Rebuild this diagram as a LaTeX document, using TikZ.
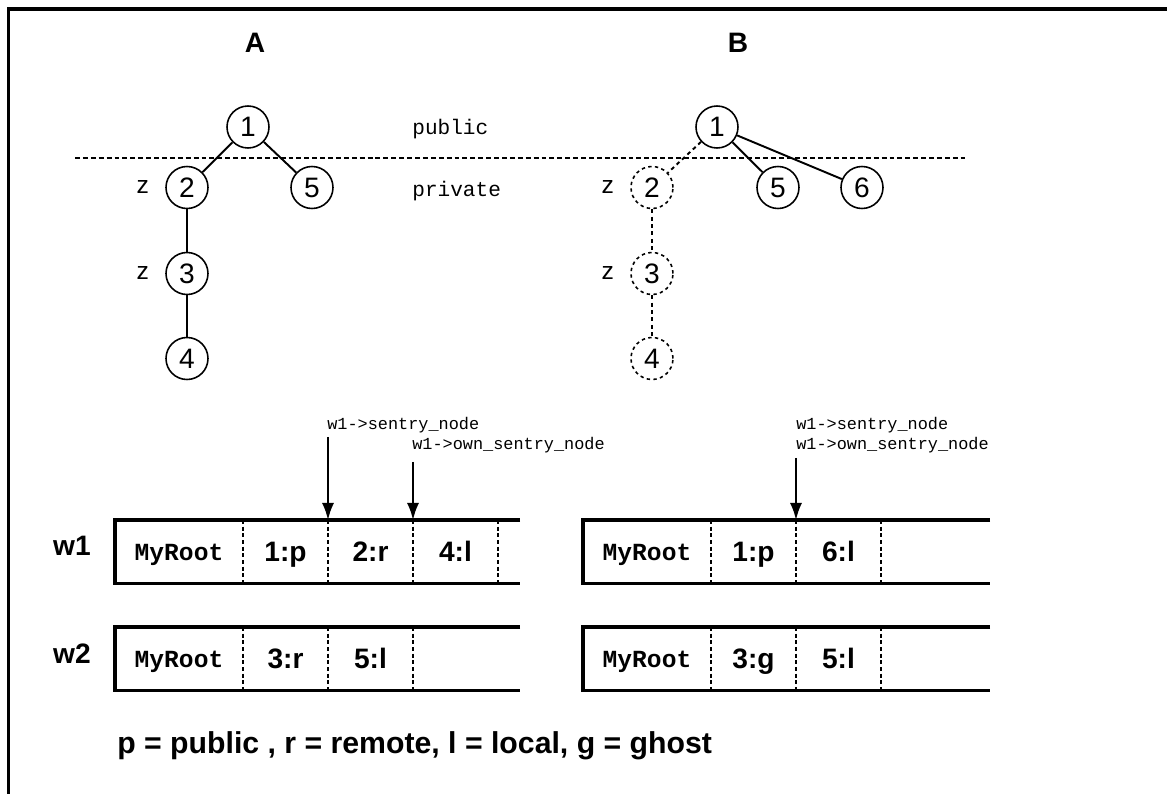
\documentclass[tikz,border=0pt]{standalone}
\usepackage{fontspec}
\setmainfont{Liberation Sans}
\setmonofont{Liberation Mono}
\usetikzlibrary{positioning,calc,arrows.meta}

\tikzset{
	outline/.style={line width=1.8pt, line join=miter},
	title/.style={font=\fontsize{16}{16}\selectfont\bfseries},
	boundary/.style={line width=1pt, dash pattern=on 2.8pt off 1.7pt},
	region/.style={font=\fontsize{12}{12}\selectfont\ttfamily, inner sep=0pt},
	treenode/.style={circle, draw, line width=0.9pt, minimum size=0.84cm, inner sep=0pt, font=\fontsize{16}{16}\selectfont},
	ghostnode/.style={treenode, dash pattern=on 1.9pt off 1.9pt},
	treeedge/.style={line width=1.1pt},
	ghostedge/.style={treeedge, dash pattern=on 2.2pt off 2pt},
	zmark/.style={font=\fontsize{14}{14}\selectfont, inner sep=0pt},
	cell/.style={minimum width=1.70cm, minimum height=1.27cm, inner sep=0pt, outer sep=0pt, text height=11.5pt, text depth=0pt, font=\fontsize{16}{16}\selectfont\bfseries},
	rootcell/.style={cell, minimum width=2.56cm, text height=10pt, font=\fontsize{14}{14}\selectfont\ttfamily\bfseries},
	memrow/.style={line width=2.2pt, line join=miter},
	divider/.style={line width=1pt, dash pattern=on 2.2pt off 1.6pt},
	ptr/.style={line width=1.1pt, -{Latex[length=0.34cm, width=0.24cm]}},
	ptrlabel/.style={font=\fontsize{9.6}{10}\selectfont\ttfamily, inner sep=0pt, anchor=base west},
	wlabel/.style={font=\fontsize{16}{16}\selectfont\bfseries, inner sep=0pt, anchor=base},
	legend/.style={font=\fontsize{17.2}{18}\selectfont\bfseries, inner sep=0pt, anchor=base west}
}

\begin{document}
\begin{tikzpicture}
	\useasboundingbox (0,0) rectangle (23.34,-15.88);
	\draw[outline] (23.34,-0.18) -- (0.17,-0.18) -- (0.17,-15.88);

	\node[title] (titleA) at (5.10,-0.86) {A};
	\node[title] (titleB) at (14.76,-0.86) {B};

	% public / private split
	\draw[boundary] (1.50,-3.16) -- (19.30,-3.16);
	\node[region, anchor=base west] (pub) at (8.24,-2.70) {public};
	\node[region, anchor=base west] (priv) at (8.24,-3.94) {private};

	% tree A
	\node[treenode] (a1) at (4.96,-2.54) {1};
	\node[treenode] (a2) at (3.74,-3.75) {2};
	\node[treenode] (a5) at (6.24,-3.75) {5};
	\node[treenode] (a3) at (3.74,-5.47) {3};
	\node[treenode] (a4) at (3.74,-7.17) {4};
	\node[zmark, left=0.32cm of a2] (za2) {z};
	\node[zmark, left=0.32cm of a3] (za3) {z};
	\draw[treeedge] (a1) -- (a2);
	\draw[treeedge] (a1) -- (a5);
	\draw[treeedge] (a2) -- (a3);
	\draw[treeedge] (a3) -- (a4);

	% tree B
	\node[treenode] (b1) at (14.34,-2.54) {1};
	\node[ghostnode] (b2) at (13.04,-3.75) {2};
	\node[treenode] (b5) at (15.56,-3.75) {5};
	\node[treenode] (b6) at (17.24,-3.75) {6};
	\node[ghostnode] (b3) at (13.04,-5.47) {3};
	\node[ghostnode] (b4) at (13.04,-7.17) {4};
	\node[zmark, left=0.32cm of b2] (zb2) {z};
	\node[zmark, left=0.32cm of b3] (zb3) {z};
	\draw[ghostedge] (b1) -- (b2);
	\draw[treeedge] (b1) -- (b5);
	\draw[treeedge] (b1) -- (b6);
	\draw[ghostedge] (b2) -- (b3);
	\draw[ghostedge] (b3) -- (b4);

	% worker lists
	\node[wlabel] (w1) at (1.44,-11.10) {w1};
	\node[wlabel] (w2) at (1.44,-13.26) {w2};

	\node[rootcell, anchor=north west] (aw1r) at (2.30,-10.40) {MyRoot};
	\node[cell, right=0cm of aw1r] (aw1a) {1:p};
	\node[cell, right=0cm of aw1a] (aw1b) {2:r};
	\node[cell, right=0cm of aw1b] (aw1c) {4:l};
	\draw[memrow] ($(aw1r.north west)+(8.10,0)$) -- (aw1r.north west) -- (aw1r.south west) -- ($(aw1r.south west)+(8.10,0)$);
	\draw[divider] (aw1r.north east) -- (aw1r.south east);
	\draw[divider] (aw1a.north east) -- (aw1a.south east);
	\draw[divider] (aw1b.north east) -- (aw1b.south east);
	\draw[divider] (aw1c.north east) -- (aw1c.south east);

	\node[rootcell, anchor=north west] (aw2r) at (2.30,-12.54) {MyRoot};
	\node[cell, right=0cm of aw2r] (aw2a) {3:r};
	\node[cell, right=0cm of aw2a] (aw2b) {5:l};
	\draw[memrow] ($(aw2r.north west)+(8.10,0)$) -- (aw2r.north west) -- (aw2r.south west) -- ($(aw2r.south west)+(8.10,0)$);
	\draw[divider] (aw2r.north east) -- (aw2r.south east);
	\draw[divider] (aw2a.north east) -- (aw2a.south east);
	\draw[divider] (aw2b.north east) -- (aw2b.south east);

	\node[rootcell, anchor=north west] (bw1r) at (11.66,-10.40) {MyRoot};
	\node[cell, right=0cm of bw1r] (bw1a) {1:p};
	\node[cell, right=0cm of bw1a] (bw1b) {6:l};
	\draw[memrow] ($(bw1r.north west)+(8.14,0)$) -- (bw1r.north west) -- (bw1r.south west) -- ($(bw1r.south west)+(8.14,0)$);
	\draw[divider] (bw1r.north east) -- (bw1r.south east);
	\draw[divider] (bw1a.north east) -- (bw1a.south east);
	\draw[divider] (bw1b.north east) -- (bw1b.south east);

	\node[rootcell, anchor=north west] (bw2r) at (11.66,-12.54) {MyRoot};
	\node[cell, right=0cm of bw2r] (bw2a) {3:g};
	\node[cell, right=0cm of bw2a] (bw2b) {5:l};
	\draw[memrow] ($(bw2r.north west)+(8.14,0)$) -- (bw2r.north west) -- (bw2r.south west) -- ($(bw2r.south west)+(8.14,0)$);
	\draw[divider] (bw2r.north east) -- (bw2r.south east);
	\draw[divider] (bw2a.north east) -- (bw2a.south east);
	\draw[divider] (bw2b.north east) -- (bw2b.south east);

	% sentry pointers
	\coordinate (sentryA) at ($(aw1a.north east)+(0,1.66)$);
	\coordinate (ownA) at ($(aw1b.north east)+(0,1.16)$);
	\coordinate (sentryB) at ($(bw1a.north east)+(0,1.24)$);
	\node[ptrlabel] (sentryAl) at (6.54,-8.58) {w1->sentry\_node};
	\node[ptrlabel] (ownAl) at (8.24,-9.00) {w1->own\_sentry\_node};
	\node[ptrlabel] (sentryBl) at (15.92,-8.58) {w1->sentry\_node};
	\node[ptrlabel] (ownBl) at (15.92,-9.00) {w1->own\_sentry\_node};
	\draw[ptr] (sentryA) -- (aw1a.north east);
	\draw[ptr] (ownA) -- (aw1b.north east);
	\draw[ptr] (sentryB) -- (bw1a.north east);

	\node[legend] (key) at (2.34,-15.06) {p = public , r = remote, l = local, g = ghost};
\end{tikzpicture}
\end{document}
